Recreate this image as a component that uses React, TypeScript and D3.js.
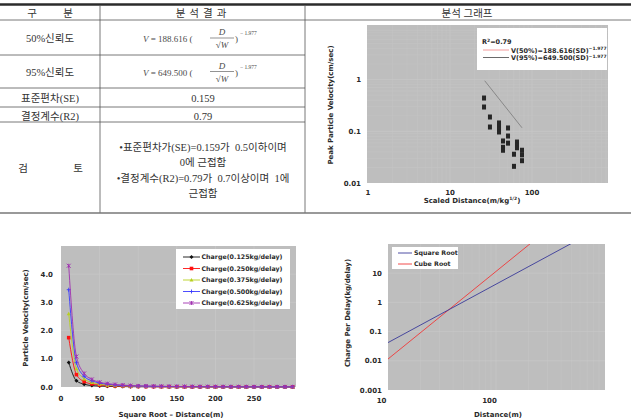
import React from 'react';
import * as d3 from 'd3';

const W = 631;
const H = 419;

// table contents
const confidenceLabels = ['50%신뢰도', '95%신뢰도'];
const coefficients = ['188.616', '649.500'];
const exponentText = '− 1.977';
const statLabels = ['표준편차(SE)', '결정계수(R2)'];
const statValues = ['0.159', '0.79'];
const reviewLines = [
  '•표준편차가(SE)=0.159가  0.5이하이며',
  '0에 근접함',
  '•결정계수(R2)=0.79가  0.7이상이며  1에',
  '근접함',
];

// top right: scaled distance vs peak particle velocity
const scaledDistance = [26, 26, 30.7, 30.7, 39.6, 39.6, 39.6, 39.6, 51, 51, 51, 44.3, 44.3, 44.3, 65.6, 65.6, 65.6, 60.3, 60.3, 75.5, 75.5, 75.5];
const peakVelocity = [0.44, 0.295, 0.189, 0.121, 0.145, 0.127, 0.111, 0.097, 0.116, 0.081, 0.059, 0.065, 0.049, 0.043, 0.062, 0.054, 0.048, 0.036, 0.021, 0.043, 0.035, 0.027];
const fit95Distance = [26.5, 75.5];
const fit95Velocity = [0.95, 0.117];
const scatterXTicks = [1, 10, 100];
const scatterYTicks = [0.01, 0.1, 1];

// bottom left: velocity by distance per charge
const distances = [10, 20, 30, 40, 50, 60, 70, 80, 90, 100, 110, 120, 130, 140, 150, 160, 170, 180, 190, 200, 210, 220, 230, 240, 250, 260, 270, 280, 290, 300];
const charge125 = [0.87, 0.22, 0.10, 0.05, 0.035, 0.024, 0.018, 0.014, 0.011, 0.009, 0.007, 0.006, 0.005, 0.004, 0.004, 0.003, 0.003, 0.003, 0.002, 0.002, 0.002, 0.002, 0.002, 0.002, 0.001, 0.001, 0.001, 0.001, 0.001, 0.001];
const charge250 = [1.75, 0.44, 0.19, 0.11, 0.07, 0.05, 0.036, 0.027, 0.022, 0.018, 0.014, 0.012, 0.010, 0.009, 0.008, 0.007, 0.006, 0.005, 0.005, 0.004, 0.004, 0.004, 0.003, 0.003, 0.003, 0.003, 0.002, 0.002, 0.002, 0.002];
const charge375 = [2.6, 0.65, 0.29, 0.16, 0.10, 0.07, 0.05, 0.04, 0.032, 0.026, 0.021, 0.018, 0.015, 0.013, 0.012, 0.010, 0.009, 0.008, 0.007, 0.007, 0.006, 0.005, 0.005, 0.005, 0.004, 0.004, 0.004, 0.003, 0.003, 0.003];
const charge500 = [3.45, 0.86, 0.38, 0.22, 0.14, 0.10, 0.07, 0.05, 0.04, 0.035, 0.029, 0.024, 0.020, 0.018, 0.015, 0.013, 0.012, 0.011, 0.010, 0.009, 0.008, 0.007, 0.007, 0.006, 0.006, 0.005, 0.005, 0.004, 0.004, 0.004];
const charge625 = [4.3, 1.08, 0.48, 0.27, 0.17, 0.12, 0.09, 0.07, 0.05, 0.04, 0.036, 0.030, 0.025, 0.022, 0.019, 0.017, 0.015, 0.013, 0.012, 0.011, 0.010, 0.009, 0.008, 0.007, 0.007, 0.006, 0.006, 0.006, 0.005, 0.005];
const chargeNames = ['Charge(0.125kg/delay)', 'Charge(0.250kg/delay)', 'Charge(0.375kg/delay)', 'Charge(0.500kg/delay)', 'Charge(0.625kg/delay)'];
const chargeColors = ['#111111', '#ff1010', '#b8d020', '#3a3aff', '#a030b0'];
const chargeMarkers = ['diamond', 'square', 'triangle', 'cross', 'star'];
const velocityXTicks = [0, 50, 100, 150, 200, 250];
const velocityYTicks = [0, 1, 2, 3, 4];

// bottom right: charge per delay vs distance
const chargeDistance = [10, 100, 1000];
const squareRootCharge = [0.042, 4.2, 420];
const cubeRootCharge = [0.0115, 11.5, 11500];
const chargeXTicks = [10, 100];
const chargeYTicks = [0.001, 0.01, 0.1, 1, 10];

const sans = "'DejaVu Sans', Verdana, sans-serif";
const serif = "'Liberation Serif', 'Noto Sans CJK KR', serif";
const plotBg = '#bebebe';
const gridMajor = '#cacaca';
const gridMinor = '#c4c4c4';
const labelColor = '#2a2a2a';

function logGrid(domain: [number, number]) {
  const out: { v: number; major: boolean }[] = [];
  for (let e = Math.round(Math.log10(domain[0])); Math.pow(10, e) < domain[1]; e++) {
    for (let k = 1; k < 10; k++) {
      const v = k * Math.pow(10, e);
      if (v > domain[0] && v < domain[1]) out.push({ v, major: k === 1 });
    }
  }
  return out;
}

function Formula({ y, coef }: { y: number; coef: string }) {
  return (
    <g fill="#4a4a4a" fontFamily={serif}>
      <text x={143} y={y + 4} fontSize={9}>
        <tspan fontStyle="italic">V</tspan> = {coef} (
      </text>
      <text x={222} y={y - 3} fontSize={9} fontStyle="italic" textAnchor="middle">D</text>
      <line x1={210} x2={234} y1={y} y2={y} stroke="#4a4a4a" strokeWidth={0.6} />
      <text x={222} y={y + 10} fontSize={9} textAnchor="middle">
        √<tspan fontStyle="italic">W</tspan>
      </text>
      <text x={235} y={y + 4} fontSize={9}>)</text>
      <text x={240} y={y - 3} fontSize={5.5}>{exponentText}</text>
    </g>
  );
}

function Table() {
  const rule = '#555';
  return (
    <g fontFamily={serif} fill="#333">
      <line x1={0} x2={W} y1={4.5} y2={4.5} stroke="#2b2b2b" strokeWidth={2.5} />
      <line x1={0} x2={W} y1={20} y2={20} stroke={rule} strokeWidth={0.8} />
      {[55, 88, 107, 122].map((y) => (
        <line key={y} x1={0} x2={305} y1={y} y2={y} stroke={rule} strokeWidth={0.8} />
      ))}
      <line x1={100} x2={100} y1={5.5} y2={213} stroke={rule} strokeWidth={0.8} />
      <line x1={305} x2={305} y1={5.5} y2={213} stroke={rule} strokeWidth={0.8} />
      <line x1={0} x2={W} y1={213} y2={213} stroke="#777" strokeWidth={1.5} />

      <text x={32} y={16.5} fontSize={10.5} textAnchor="middle">구</text>
      <text x={68} y={16.5} fontSize={10.5} textAnchor="middle">분</text>
      <text x={203} y={16.5} fontSize={10.5} textAnchor="middle" letterSpacing={4}>분석결과</text>
      <text x={467} y={16.5} fontSize={10.5} textAnchor="middle">분석 그래프</text>

      {confidenceLabels.map((t, i) => (
        <text key={t} x={50} y={41.5 + i * 34} fontSize={10.5} textAnchor="middle">{t}</text>
      ))}
      {coefficients.map((c, i) => (
        <Formula key={c} y={38 + i * 33.5} coef={c} />
      ))}
      {statLabels.map((t, i) => (
        <text key={t} x={50} y={101.5 + i * 18} fontSize={10.5} textAnchor="middle">{t}</text>
      ))}
      {statValues.map((t, i) => (
        <text key={t} x={203} y={101.5 + i * 18} fontSize={10.5} textAnchor="middle">{t}</text>
      ))}
      <text x={23} y={171.5} fontSize={10.5} textAnchor="middle">검</text>
      <text x={78} y={171.5} fontSize={10.5} textAnchor="middle">토</text>
      {reviewLines.map((t, i) => (
        <text key={i} x={203} y={151 + i * 15.3} fontSize={10.5} textAnchor="middle" xmlSpace="preserve">{t}</text>
      ))}
    </g>
  );
}

function ScatterChart() {
  const left = 367, right = 608, top = 25, bottom = 183;
  const x = d3.scaleLog().domain([1, 1000]).range([368, 614]);
  const y = d3.scaleLog().domain([0.01, 10]).range([183, 27.9]);
  const xg = logGrid([1, 1000]).filter((g) => x(g.v) < right);
  const yg = logGrid([0.01, 10]);
  const fit = d3.line<number>().x((_, i) => x(fit95Distance[i])).y((v) => y(v));
  return (
    <g fontFamily={sans} fontWeight="bold" fill={labelColor}>
      <rect x={left} y={top} width={right - left} height={bottom - top} fill={plotBg} />
      {xg.map((g) => (
        <line key={'x' + g.v} x1={x(g.v)} x2={x(g.v)} y1={top} y2={bottom} stroke={g.major ? gridMajor : gridMinor} strokeWidth={0.6} />
      ))}
      {yg.map((g) => (
        <line key={'y' + g.v} x1={left} x2={right} y1={y(g.v)} y2={y(g.v)} stroke={g.major ? gridMajor : gridMinor} strokeWidth={0.6} />
      ))}
      <path d={fit(fit95Velocity) || ''} fill="none" stroke="#7a7a7a" strokeWidth={0.8} />
      {scaledDistance.map((d, i) => (
        <rect key={i} x={x(d) - 2} y={y(peakVelocity[i]) - 2.5} width={4} height={5} fill="#262626" />
      ))}
      {scatterXTicks.map((t) => (
        <text key={t} x={x(t)} y={195} fontSize={7} textAnchor="middle">{t}</text>
      ))}
      {scatterYTicks.map((t) => (
        <text key={t} x={361} y={y(t) + 2.5} fontSize={7} textAnchor="end">{t}</text>
      ))}
      <text x={472} y={203} fontSize={7} textAnchor="middle">
        Scaled Distance(m/kg<tspan dy={-3} fontSize={4.5}>1/2</tspan><tspan dy={3}>)</tspan>
      </text>
      <text transform="translate(333,105) rotate(-90)" fontSize={7} textAnchor="middle">Peak Particle Velocity(cm/sec)</text>

      <rect x={477} y={28} width={130} height={42} fill="#fff" />
      <text x={482} y={44} fontSize={6.5}>
        R<tspan dy={-2.5} fontSize={4.5}>2</tspan><tspan dy={2.5}>=0.79</tspan>
      </text>
      <line x1={483} x2={509} y1={50} y2={50} stroke="#f08080" strokeWidth={0.8} />
      <text x={511} y={52.5} fontSize={6.5}>
        V(50%)=188.616(SD)<tspan dy={-2.5} fontSize={4.5}>−1.977</tspan>
      </text>
      <line x1={483} x2={509} y1={57.5} y2={57.5} stroke="#444" strokeWidth={0.8} />
      <text x={511} y={60} fontSize={6.5}>
        V(95%)=649.500(SD)<tspan dy={-2.5} fontSize={4.5}>−1.977</tspan>
      </text>
    </g>
  );
}

function Marker({ shape, x, y, color }: { shape: string; x: number; y: number; color: string }) {
  const s = 2;
  if (shape === 'diamond') return <path d={`M${x},${y - s}L${x + s},${y}L${x},${y + s}L${x - s},${y}Z`} fill={color} />;
  if (shape === 'square') return <rect x={x - 1.8} y={y - 1.8} width={3.6} height={3.6} fill={color} />;
  if (shape === 'triangle') return <path d={`M${x},${y - s}L${x + s},${y + s * 0.8}L${x - s},${y + s * 0.8}Z`} fill={color} />;
  if (shape === 'cross')
    return <path d={`M${x - s},${y}H${x + s}M${x},${y - s}V${y + s}`} stroke={color} strokeWidth={0.9} />;
  return (
    <path d={`M${x - s},${y - s}L${x + s},${y + s}M${x + s},${y - s}L${x - s},${y + s}M${x},${y - s}V${y + s}`} stroke={color} strokeWidth={0.9} />
  );
}

function VelocityChart() {
  const left = 61, right = 296, top = 246, bottom = 387;
  const x = d3.scaleLinear().domain([0, 305]).range([61, 296.5]);
  const y = d3.scaleLinear().domain([0, 5]).range([387, 246]);
  const series = [charge125, charge250, charge375, charge500, charge625];
  const line = d3.line<number>().x((_, i) => x(distances[i])).y((v) => y(v)).curve(d3.curveMonotoneX);
  return (
    <g fontFamily={sans} fontWeight="bold" fill={labelColor}>
      <rect x={left} y={top} width={right - left} height={bottom - top} fill={plotBg} />
      {velocityXTicks.slice(1).map((t) => (
        <line key={'gx' + t} x1={x(t)} x2={x(t)} y1={top} y2={bottom} stroke={gridMajor} strokeWidth={0.6} />
      ))}
      {velocityYTicks.slice(1).map((t) => (
        <line key={'gy' + t} x1={left} x2={right} y1={y(t)} y2={y(t)} stroke={gridMajor} strokeWidth={0.6} />
      ))}
      {series.map((s, k) => (
        <g key={k}>
          <path d={line(s) || ''} fill="none" stroke={chargeColors[k]} strokeWidth={0.9} />
          {s.map((v, i) => (
            <Marker key={i} shape={chargeMarkers[k]} x={x(distances[i])} y={y(v)} color={chargeColors[k]} />
          ))}
        </g>
      ))}
      {velocityXTicks.map((t) => (
        <text key={t} x={x(t)} y={400.5} fontSize={7} textAnchor="middle">{t}</text>
      ))}
      {velocityYTicks.map((t) => (
        <text key={t} x={53} y={y(t) + 2.5} fontSize={7} textAnchor="end">{t.toFixed(1)}</text>
      ))}
      <text x={171} y={416.5} fontSize={7} textAnchor="middle">Square Root – Distance(m)</text>
      <text transform="translate(28,318) rotate(-90)" fontSize={7} textAnchor="middle">Particle Velocity(cm/sec)</text>

      <rect x={176} y={249} width={114} height={60} fill="#fff" />
      {chargeNames.map((n, k) => {
        const ly = 257 + k * 11.5;
        return (
          <g key={n}>
            <line x1={183} x2={200} y1={ly} y2={ly} stroke={chargeColors[k]} strokeWidth={0.9} />
            <Marker shape={chargeMarkers[k]} x={191.5} y={ly} color={chargeColors[k]} />
            <text x={201.5} y={ly + 2.3} fontSize={6.3}>{n}</text>
          </g>
        );
      })}
    </g>
  );
}

function ChargeChart() {
  const left = 388, right = 605, top = 244, bottom = 390;
  const x = d3.scaleLog().domain([10, 1000]).range([388, 604]);
  const y = d3.scaleLog().domain([0.001, 100]).range([390, 244]);
  const xg = logGrid([10, 1000]).filter((g) => x(g.v) < right);
  const yg = logGrid([0.001, 100]);
  const line = d3.line<number>().x((_, i) => x(chargeDistance[i])).y((v) => y(v));
  return (
    <g fontFamily={sans} fontWeight="bold" fill={labelColor}>
      <defs>
        <clipPath id="chargeClip">
          <rect x={left} y={top} width={right - left} height={bottom - top} />
        </clipPath>
      </defs>
      <rect x={left} y={top} width={right - left} height={bottom - top} fill={plotBg} />
      {xg.map((g) => (
        <line key={'x' + g.v} x1={x(g.v)} x2={x(g.v)} y1={top} y2={bottom} stroke={g.major ? gridMajor : gridMinor} strokeWidth={0.6} />
      ))}
      {yg.filter((g) => g.major).map((g) => (
        <line key={'y' + g.v} x1={left} x2={right} y1={y(g.v)} y2={y(g.v)} stroke={gridMajor} strokeWidth={0.6} />
      ))}
      <g clipPath="url(#chargeClip)">
        <path d={line(cubeRootCharge) || ''} fill="none" stroke="#f03838" strokeWidth={0.9} />
        <path d={line(squareRootCharge) || ''} fill="none" stroke="#3a3a9a" strokeWidth={0.9} />
      </g>
      {chargeXTicks.map((t) => (
        <text key={t} x={x(t) - 6.5} y={402.5} fontSize={7} textAnchor="middle">{t}</text>
      ))}
      {chargeYTicks.map((t) => (
        <text key={t} x={382} y={y(t) + 2.5} fontSize={7} textAnchor="end">{t}</text>
      ))}
      <text x={498} y={416.5} fontSize={7} textAnchor="middle">Distance(m)</text>
      <text transform="translate(350,313) rotate(-90)" fontSize={7} textAnchor="middle">Charge Per Delay(kg/delay)</text>

      <rect x={392} y={247} width={66} height={22} fill="#fff" />
      <line x1={398} x2={412} y1={253} y2={253} stroke="#3a3a9a" strokeWidth={0.9} />
      <text x={414} y={255.3} fontSize={6.3}>Square Root</text>
      <line x1={398} x2={412} y1={264} y2={264} stroke="#f03838" strokeWidth={0.9} />
      <text x={414} y={266.3} fontSize={6.3}>Cube Root</text>
    </g>
  );
}

export default function App() {
  return (
    <svg width={W} height={H} style={{ display: 'block', position: 'absolute', left: 0, top: 0, background: '#fff' }}>
      <Table />
      <ScatterChart />
      <VelocityChart />
      <ChargeChart />
    </svg>
  );
}
